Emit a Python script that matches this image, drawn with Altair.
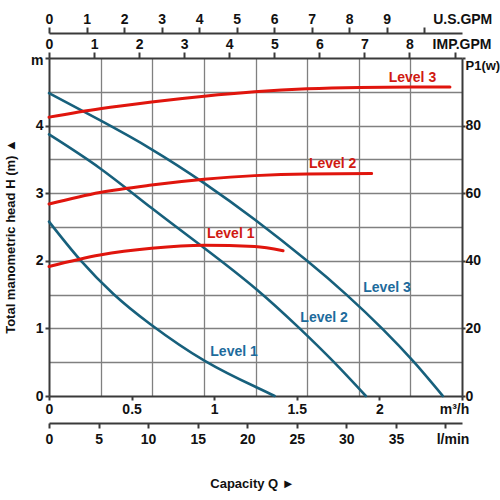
import altair as alt
import pandas as pd

# ---- flow / head curves (flow in m³/h, head in m) ----
head_levels = ["Level 1", "Level 2", "Level 3"]
q_head_1 = [0.0, 0.19, 0.39, 0.61, 0.943, 1.255, 1.366]
h_head_1 = [2.58, 2.01, 1.51, 1.07, 0.52, 0.13, 0.0]
q_head_2 = [0.0, 0.308, 0.621, 0.939, 1.255, 1.517, 1.725, 1.918]
h_head_2 = [3.87, 3.37, 2.78, 2.19, 1.58, 1.00, 0.50, 0.0]
q_head_3 = [0.0, 0.308, 0.621, 0.939, 1.245, 1.562, 1.80, 2.02, 2.21, 2.384]
h_head_3 = [4.48, 4.08, 3.65, 3.15, 2.61, 2.00, 1.50, 0.99, 0.50, 0.0]

# ---- power input P1 (W) ----
q_pow_1 = [0.0, 0.308, 0.621, 0.939, 1.245, 1.417]
p_pow_1 = [38.3, 41.7, 43.7, 44.6, 44.2, 43.0]
q_pow_2 = [0.0, 0.308, 0.621, 0.939, 1.245, 1.562, 1.953]
p_pow_2 = [56.8, 60.2, 62.4, 64.1, 65.2, 65.7, 65.8]
q_pow_3 = [0.0, 0.308, 0.621, 0.939, 1.245, 1.562, 1.88, 2.197, 2.427]
p_pow_3 = [82.5, 85.0, 87.0, 88.7, 90.0, 90.9, 91.3, 91.4, 91.4]

# ---- curve labels ----
head_label_q = [1.12, 1.665, 2.046]
head_label_h = [0.646, 1.158, 1.60]
power_label_q = [1.10, 1.717, 2.20]
power_label_p = [47.9, 68.6, 94.1]

# ---- axis ticks ----
Q_MAX = 2.5
m3h_ticks = [0, 0.5, 1, 1.5, 2, 2.5]
q_grid = [Q_MAX * k / 8 for k in range(9)]
lmin_ticks = [0, 5, 10, 15, 20, 25, 30, 35, 40]
usgpm_ticks = list(range(11))
impgpm_ticks = list(range(10))
head_ticks = [i * 0.5 for i in range(11)]
power_ticks = [0, 20, 40, 60, 80, 100]

LMIN = 1000 / 60
US_GAL = 3.785411784
IMP_GAL = 4.54609

FONT = "Liberation Sans"
TEAL = "#17607c"
TEAL_TEXT = "#1d6b9c"
RED = "#e0150d"
RED_TEXT = "#d01a12"
INK = "#3a3a3a"


def long_frame(qs, vs, name):
    rows = []
    for lvl, q, v in zip(head_levels, qs, vs):
        rows += [{"level": lvl, "q": a, name: b} for a, b in zip(q, v)]
    return pd.DataFrame(rows)


def cond(test, yes, no):
    return {"condition": {"test": test, "value": yes}, "value": no}


head_df = long_frame([q_head_1, q_head_2, q_head_3], [h_head_1, h_head_2, h_head_3], "h")
power_df = long_frame([q_pow_1, q_pow_2, q_pow_3], [p_pow_1, p_pow_2, p_pow_3], "p")
head_lbl_df = pd.DataFrame({"label": head_levels, "q": head_label_q, "h": head_label_h})
power_lbl_df = pd.DataFrame({"label": head_levels, "q": power_label_q, "p": power_label_p})

axis_style = dict(
    domainColor=INK, domainWidth=2, tickColor=INK, tickWidth=2,
    labelFont=FONT, labelFontWeight="bold", labelColor="#111111",
    titleFont=FONT, titleFontSize=13, titleFontWeight="bold", titleColor="#111111",
    labelFlush=False, labelOverlap=False,
)

q_values = sorted(set(round(v, 4) for v in q_grid + m3h_ticks))
half_test = "abs(datum.value * 2 - round(datum.value * 2)) < 0.001"
grid_test = "abs(datum.value * 3.2 - round(datum.value * 3.2)) < 0.001 && datum.value > 0 && datum.value < 2.5"

# flow (m³/h) bottom axis, carrying the vertical grid
x_m3h = alt.X(
    "q:Q",
    scale=alt.Scale(domain=[0, Q_MAX], nice=False, zero=False),
    axis=alt.Axis(
        orient="bottom", values=q_values, format="~g", title=None,
        labelExpr=f"({half_test}) ? (datum.value >= 2.5 ? 'm³/h' : datum.label) : ''",
        tickOpacity=cond(half_test, 1, 0), tickSize=4, labelPadding=2, labelFontSize=14,
        labelOffset=cond("datum.value >= 2.5", -8, 0),
        grid=True, gridColor="#808080", gridWidth=1.3,
        gridOpacity=cond(grid_test, 1, 0),
        **axis_style,
    ),
)
y_head = alt.Y(
    "h:Q",
    scale=alt.Scale(domain=[0, 5], nice=False),
    axis=alt.Axis(
        orient="left", values=head_ticks, format="~g", labelFontSize=14,
        labelExpr="datum.value >= 5 ? 'm' : (datum.value % 1 == 0 ? datum.label : '')",
        tickOpacity=cond("datum.value % 1 == 0", 1, 0), tickSize=4, labelPadding=2,
        labelOffset=cond("datum.value >= 5", 2, 0),
        grid=True, gridColor="#808080", gridWidth=1.3,
        gridOpacity=cond("datum.value > 0 && datum.value < 5", 1, 0),
        title="Total manometric head H (m) ▲",
        titleAngle=270, titleX=-39, titleY=178, titleAlign="center", titleBaseline="middle",
        **axis_style,
    ),
)

head_lines = alt.Chart(head_df).mark_line(
    color=TEAL, strokeWidth=2.6, interpolate="natural", strokeCap="round"
).encode(x=x_m3h, y=y_head, detail="level:N")

power_lines = alt.Chart(power_df).mark_line(
    color=RED, strokeWidth=3, interpolate="monotone", strokeCap="round"
).transform_calculate(
    lmin=f"datum.q * {LMIN}"
).encode(
    x=alt.X(
        "lmin:Q",
        scale=alt.Scale(domain=[0, Q_MAX * LMIN], nice=False, zero=False),
        axis=alt.Axis(
            orient="bottom", offset=27, values=lmin_ticks, format="d", labelFontSize=14,
            labelExpr="datum.value >= 40 ? 'l/min' : datum.label",
            labelOffset=cond("datum.value >= 40", 7, 0),
            tickSize=5, labelPadding=4, grid=False,
            title="Capacity Q ►", titleX=203, titleAlign="center", titlePadding=31,
            **axis_style,
        ),
    ),
    y=alt.Y(
        "p:Q",
        scale=alt.Scale(domain=[0, 100], nice=False),
        axis=alt.Axis(
            orient="right", values=power_ticks, format="d", title=None,
            labelExpr="datum.value >= 100 ? 'P1(w)' : datum.label",
            labelOffset=cond("datum.value >= 100", 7, 0),
            labelFontSize=cond("datum.value >= 100", 13, 14),
            tickSize=3, labelPadding=0, grid=False,
            **axis_style,
        ),
    ),
    detail="level:N",
)

head_labels = alt.Chart(head_lbl_df).mark_text(
    font=FONT, fontSize=14, fontWeight="bold", color=TEAL_TEXT, align="center", baseline="middle"
).transform_calculate(
    usgpm=f"datum.q * {LMIN} / {US_GAL}"
).encode(
    x=alt.X(
        "usgpm:Q",
        scale=alt.Scale(domain=[0, Q_MAX * LMIN / US_GAL], nice=False, zero=False),
        axis=alt.Axis(
            orient="top", offset=25, values=usgpm_ticks, format="d", title=None,
            labelExpr="datum.value >= 10 ? 'U.S.GPM' : datum.label", labelFontSize=14,
            labelOffset=cond("datum.value >= 10", 38, 0),
            tickSize=6, labelPadding=1, grid=False,
            **axis_style,
        ),
    ),
    y=alt.Y("h:Q", scale=alt.Scale(domain=[0, 5], nice=False), axis=None),
    text="label:N",
)

power_labels = alt.Chart(power_lbl_df).mark_text(
    font=FONT, fontSize=14, fontWeight="bold", color=RED_TEXT, align="center", baseline="middle"
).transform_calculate(
    impgpm=f"datum.q * {LMIN} / {IMP_GAL}"
).encode(
    x=alt.X(
        "impgpm:Q",
        scale=alt.Scale(domain=[0, Q_MAX * LMIN / IMP_GAL], nice=False, zero=False),
        axis=alt.Axis(
            orient="top", offset=0, values=impgpm_ticks, format="d", title=None,
            labelExpr="datum.value >= 9 ? 'IMP.GPM' : datum.label", labelFontSize=14,
            labelOffset=cond("datum.value >= 9", 7, 0),
            tickSize=6, labelPadding=1, grid=False,
            **axis_style,
        ),
    ),
    y=alt.Y("p:Q", scale=alt.Scale(domain=[0, 100], nice=False), axis=None),
    text="label:N",
)

chart = alt.layer(
    head_lines, power_lines, head_labels, power_labels
).resolve_scale(
    x="independent", y="independent"
).properties(
    width=413, height=338,
    padding={"left": 49, "top": 58, "right": 38, "bottom": 104},
    autosize=alt.AutoSizeParams(type="none"),
    background="white",
).configure_view(stroke=None)

chart.save("out.html", embed_options={"renderer": "svg", "actions": False})
